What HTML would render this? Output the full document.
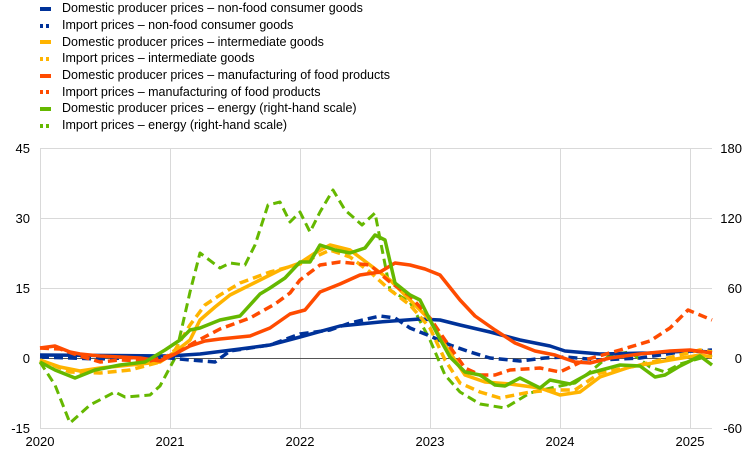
<!DOCTYPE html>
<html><head><meta charset="utf-8"><style>
body{margin:0;background:#fff;}
svg text{font-family:"Liberation Sans",Arial,sans-serif;}
</style></head><body>
<svg width="744" height="454" xmlns="http://www.w3.org/2000/svg">
<g font-size="12.5" fill="#000">
<g stroke-width="4">
<line x1="40" x2="51" y1="9" y2="9" stroke="#003299"/>
<line x1="40" x2="51" y1="26" y2="26" stroke="#003299" stroke-dasharray="3,3"/>
<line x1="40" x2="51" y1="42" y2="42" stroke="#ffb400"/>
<line x1="40" x2="51" y1="59" y2="59" stroke="#ffb400" stroke-dasharray="3,3"/>
<line x1="40" x2="51" y1="76" y2="76" stroke="#ff4b00"/>
<line x1="40" x2="51" y1="92" y2="92" stroke="#ff4b00" stroke-dasharray="3,3"/>
<line x1="40" x2="51" y1="109" y2="109" stroke="#65b800"/>
<line x1="40" x2="51" y1="126" y2="126" stroke="#65b800" stroke-dasharray="3,3"/>
</g>
<text x="62" y="12">Domestic producer prices – non-food consumer goods</text>
<text x="62" y="29">Import prices – non-food consumer goods</text>
<text x="62" y="46">Domestic producer prices – intermediate goods</text>
<text x="62" y="62">Import prices – intermediate goods</text>
<text x="62" y="79">Domestic producer prices – manufacturing of food products</text>
<text x="62" y="96">Import prices – manufacturing of food products</text>
<text x="62" y="112">Domestic producer prices – energy (right-hand scale)</text>
<text x="62" y="129">Import prices – energy (right-hand scale)</text>
</g>
<g stroke="#d9d9d9" stroke-width="1">
<line x1="40" x2="712" y1="148.5" y2="148.5"/><line x1="40" x2="712" y1="218.5" y2="218.5"/><line x1="40" x2="712" y1="288.5" y2="288.5"/>
<line x1="40" x2="712" y1="428.5" y2="428.5"/>
<line x1="40.5" x2="40.5" y1="148" y2="428"/><line x1="170.5" x2="170.5" y1="148" y2="428"/><line x1="300.5" x2="300.5" y1="148" y2="428"/><line x1="430.5" x2="430.5" y1="148" y2="428"/><line x1="560.5" x2="560.5" y1="148" y2="428"/><line x1="690.5" x2="690.5" y1="148" y2="428"/>
</g>
<line x1="40" x2="712" y1="358.5" y2="358.5" stroke="#555" stroke-width="1"/>
<g font-size="13" fill="#000">
<text x="30" y="153" text-anchor="end">45</text><text x="30" y="223" text-anchor="end">30</text><text x="30" y="293" text-anchor="end">15</text><text x="30" y="363" text-anchor="end">0</text><text x="30" y="433" text-anchor="end">-15</text>
<text x="742" y="153" text-anchor="end">180</text><text x="742" y="223" text-anchor="end">120</text><text x="742" y="293" text-anchor="end">60</text><text x="742" y="363" text-anchor="end">0</text><text x="742" y="433" text-anchor="end">-60</text>
<text x="40" y="446" text-anchor="middle">2020</text><text x="170" y="446" text-anchor="middle">2021</text><text x="300" y="446" text-anchor="middle">2022</text><text x="430" y="446" text-anchor="middle">2023</text><text x="560" y="446" text-anchor="middle">2024</text><text x="690" y="446" text-anchor="middle">2025</text>
</g>
<g fill="none" stroke-width="3.5" stroke-linejoin="round">
<polyline stroke="#65b800" stroke-width="3" stroke-dasharray="9,5" points="40,362 55,385 70,423 90,405 115,392 125,397 150,395 160,386 175,358 190,292 200,253 220,268 230,263 245,265 255,245 268,205 280,202 290,222 300,212 310,232 320,212 333,190 345,210 362,225 375,213 390,290 410,302 430,340 445,375 460,392 480,404 505,408 530,393 555,387 575,383 590,372 610,355 630,352 650,367 665,372 680,364 712,355"/>
<polyline stroke="#003299" points="40,355 170,356 200,354 240,349 270,345 300,337 340,326 380,322 420,319 440,320 460,325 490,332 520,340 550,346 565,351 600,354 650,353 690,351 712,352"/>
<polyline stroke="#003299" stroke-dasharray="9,5" points="40,357 100,359 150,357 170,358 190,360 215,362 230,351 270,345 300,334 330,330 350,323 380,316 395,318 410,328 430,336 450,345 470,352 490,358 520,361 545,358 565,357 600,360 640,358 680,352 712,350"/>
<polyline stroke="#ffb400" stroke-dasharray="9,5" points="40,360 70,372 100,373 130,370 160,362 175,350 190,325 205,305 220,295 240,283 270,272 300,264 330,250 350,257 370,272 390,290 410,305 430,328 445,360 460,383 480,392 500,398 530,392 555,390 575,390 600,373 640,365 680,355 700,350 712,352"/>
<polyline stroke="#ffb400" points="40,360 60,367 80,371 100,368 130,365 160,362 175,352 190,340 200,320 215,307 230,295 260,280 280,270 300,263 315,253 330,245 350,250 370,265 390,280 410,300 430,320 445,345 465,375 485,382 510,384 540,388 560,395 580,392 600,377 630,367 670,360 700,355 712,357"/>
<polyline stroke="#ff4b00" stroke-dasharray="9,5" points="40,348 60,349 80,356 100,362 120,360 150,361 175,354 195,342 220,329 250,318 275,304 290,293 300,280 320,265 340,262 370,265 390,282 410,296 430,318 445,340 465,368 480,375 495,375 510,370 540,368 560,372 585,360 620,350 650,341 670,328 688,310 712,320"/>
<polyline stroke="#ff4b00" points="40,348 55,346 70,352 80,354 100,356 140,358 160,361 175,354 190,346 205,341 220,339 250,336 270,328 290,314 305,310 320,292 340,284 360,275 380,272 395,263 410,265 425,269 440,275 460,300 475,316 495,330 515,343 535,351 555,355 575,362 590,363 610,358 640,354 670,351 690,350 712,353"/>
<polyline stroke="#65b800" points="40,362 55,370 75,378 95,370 120,365 145,362 165,350 180,340 190,330 200,328 220,320 240,316 260,294 270,288 285,278 300,262 310,262 320,245 335,250 350,253 365,248 375,235 385,240 395,283 410,295 420,300 430,320 440,339 450,357 465,372 480,375 495,385 505,386 520,378 540,388 550,380 570,384 590,373 620,365 640,366 655,377 665,375 680,366 700,356 712,365"/>
</g>
</svg>
</body></html>
